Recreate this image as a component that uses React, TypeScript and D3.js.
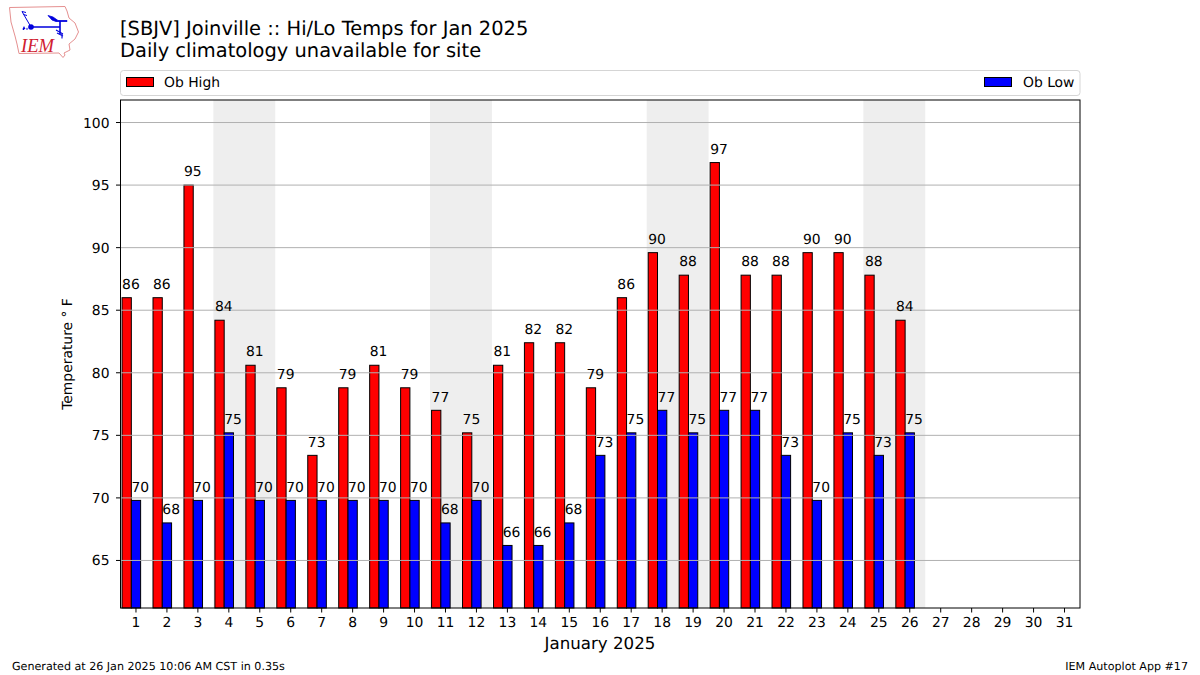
import React from "react";
import * as d3 from "d3";

const days = d3.range(1, 32);
const obHigh = [86, 86, 95, 84.2, 80.6, 78.8, 73.4, 78.8, 80.6, 78.8, 77, 75.2, 80.6, 82.4, 82.4, 78.8, 86, 89.6, 87.8, 96.8, 87.8, 87.8, 89.6, 89.6, 87.8, 84.2];
const obLow = [69.8, 68, 69.8, 75.2, 69.8, 69.8, 69.8, 69.8, 69.8, 69.8, 68, 69.8, 66.2, 66.2, 68, 73.4, 75.2, 77, 75.2, 77, 77, 73.4, 69.8, 75.2, 73.4, 75.2];
const weekends = [[4, 5], [11, 12], [18, 19], [25, 26]];
const yTicks = [65, 70, 75, 80, 85, 90, 95, 100];

const L = 120.5, R = 1080, T = 100, B = 608;
const FONT = "'DejaVu Sans', sans-serif";

export default function App() {
  const x = d3.scaleLinear().domain([0.5, 31.5]).range([L, R]);
  const y = d3.scaleLinear().domain([61.2, 101.8]).range([B, T]);
  const bw = x(0.3) - x(0);
  const bars = (vals: number[], off: number, fill: string) =>
    vals.map((v, i) => (
      <rect key={i} x={x(i + 1 + off)} y={y(v)} width={bw} height={B - y(v)} fill={fill} stroke="#000" strokeWidth={1} />
    ));
  const labels = (vals: number[], off: number) =>
    vals.map((v, i) => (
      <text key={i} x={x(i + 1 + off) + bw - 0.4} y={y(v) - 8.8} textAnchor="middle" fontSize={13.89} fill="#000">
        {Math.round(v)}
      </text>
    ));
  return (
    <svg width={1200} height={675} style={{ position: "absolute", left: 0, top: 0, background: "#fff" }} fontFamily={FONT} textRendering="geometricPrecision">
      {/* logo */}
      <g fill="none">
        <path d="M9.5 7.5 L65 6.5 L67 11 L69 18 L75 23 L78.5 32 L75 39 L69 44 L70 50 L64 53 L65 55 L63 57.5 L59 53 L19 53.5 L17 44 L15 36 L11 22 Z" stroke="#e59090" strokeWidth={1} />
        <path d="M31 27 H60 M60 21 V34" stroke="#0000dd" strokeWidth={1.6} />
        <path d="M48 15.5 L53 17 L58 20.5 H67 V21.5 H56 L52 20 Z" fill="#0000dd" stroke="#0000dd" strokeWidth={0.8} />
        <path d="M31 27 L24 15 L22 11.5 M22 11.5 L26 12.5 M23.5 14.5 L27 15.5" stroke="#0000dd" strokeWidth={1} />
        <circle cx={31} cy={27} r={2.8} fill="#0000dd" />
        <path d="M24 26 l1.5 3 h-3 Z M27 27.5 l1 2 h-2 Z M23.5 28 l1 2 h-2 Z" fill="#0000dd" />
        <path d="M56 30 L63 34 M57 33 L63 36 M62 33 V38.5" stroke="#0000dd" strokeWidth={1.1} />
        <text x={21} y={52} fontFamily="'Liberation Serif', serif" fontStyle="italic" fontSize={20} textLength={33} lengthAdjust="spacingAndGlyphs" fill="#d02030" stroke="none">IEM</text>
      </g>

      <text x={120} y={35} fontSize={19.44}>[SBJV] Joinville :: Hi/Lo Temps for Jan 2025</text>
      <text x={120} y={57} fontSize={19.44}>Daily climatology unavailable for site</text>

      {/* legend */}
      <rect x={120.5} y={70.5} width={959.5} height={25} rx={3} fill="#fff" stroke="#d5d5d5" strokeWidth={1} />
      <rect x={126.5} y={77.5} width={27} height={9} fill="#ff0000" stroke="#000" />
      <text x={164} y={86.5} fontSize={13.89}>Ob High</text>
      <rect x={984.5} y={77.5} width={27} height={9} fill="#0000ff" stroke="#000" />
      <text x={1023} y={86.5} fontSize={13.89}>Ob Low</text>

      {/* weekend bands */}
      {weekends.map(([a, b]) => (
        <rect key={a} x={x(a - 0.5)} y={T} width={x(b + 0.5) - x(a - 0.5)} height={B - T} fill="#eeeeee" />
      ))}

      {/* bars */}
      {bars(obHigh, -0.45, "#ff0000")}
      {bars(obLow, -0.15, "#0000ff")}

      {/* grid */}
      {yTicks.map((t) => (
        <line key={t} x1={L} x2={R} y1={y(t)} y2={y(t)} stroke="#b0b0b0" strokeWidth={1} />
      ))}

      {labels(obHigh, -0.45)}
      {labels(obLow, -0.15)}

      {/* frame */}
      <rect x={L} y={T} width={R - L} height={B - T} fill="none" stroke="#000" strokeWidth={1} />

      {/* y axis */}
      {yTicks.map((t) => (
        <g key={t}>
          <line x1={L - 4.5} x2={L} y1={y(t)} y2={y(t)} stroke="#000" />
          <text x={L - 11} y={y(t) + 5} textAnchor="end" fontSize={13.89}>{t}</text>
        </g>
      ))}
      <text transform="translate(72,354) rotate(-90)" textAnchor="middle" fontSize={13.89}>Temperature ° F</text>

      {/* x axis */}
      {days.map((d) => (
        <g key={d}>
          <line x1={x(d)} x2={x(d)} y1={B} y2={B + 4.5} stroke="#000" />
          <text x={x(d)} y={B + 19} textAnchor="middle" fontSize={13.89}>{d}</text>
        </g>
      ))}
      <text x={600} y={649} textAnchor="middle" fontSize={16.67}>January 2025</text>

      <text x={12} y={670} fontSize={11.11}>Generated at 26 Jan 2025 10:06 AM CST in 0.35s</text>
      <text x={1188} y={670} textAnchor="end" fontSize={11.11}>IEM Autoplot App #17</text>
    </svg>
  );
}
